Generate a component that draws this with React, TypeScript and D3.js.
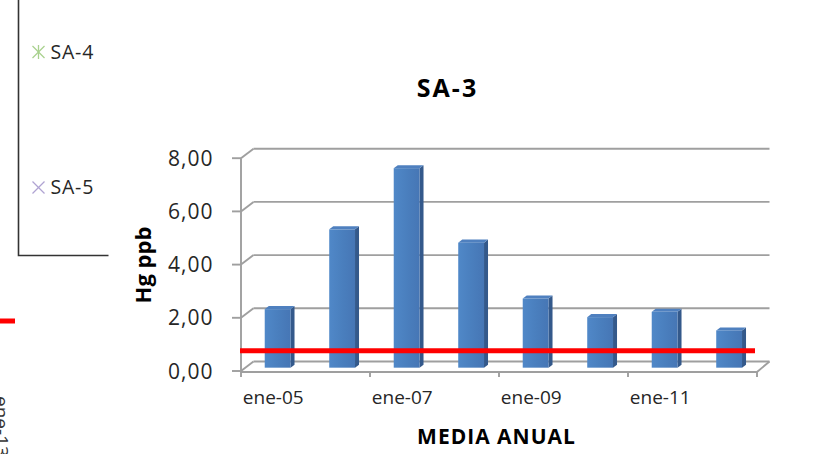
import React from "react";
import * as d3 from "d3";

// Annual mean mercury concentration at station SA-3
const categories = ["ene-05", "ene-06", "ene-07", "ene-08", "ene-09", "ene-10", "ene-11", "ene-12"];
const hgValues = [2.2, 5.2, 7.5, 4.7, 2.6, 1.9, 2.1, 1.4];
const yTicks = [0, 2, 4, 6, 8];
const xTickLabels = ["ene-05", "ene-07", "ene-09", "ene-11"];
const limitValue = 0.76;
const legendItems = ["SA-4", "SA-5"];

const W = 814;
const H = 454;

// 3D projection: depth offset of the back wall relative to the front plane
const DX = 12.5;
const DY = -9.5;
const BAR_T0 = 0.35;
const BAR_T1 = 0.67;

const FONT = "'Open Sans', 'Noto Sans', sans-serif";

const fmt = (v: number) => v.toFixed(2).replace(".", ",");

export default function App() {
  const x = d3.scaleBand<string>().domain(categories).range([241, 757]).paddingInner(0.6).paddingOuter(0.3);
  const edges = d3.scaleLinear().domain([0, categories.length]).range([241, 757]);
  const y = d3.scaleLinear().domain([0, 8]).range([371, 158.2]);

  const grid = "#9f9f9f";
  const x0 = edges(0);
  const x1 = edges(categories.length);
  const floorY = y(0) + 1;

  const bars = categories.map((c, i) => {
    const v = hgValues[i];
    const bx = x(c)!;
    const w = x.bandwidth();
    const yt0 = y(v) + BAR_T0 * DY;
    const yt1 = y(v) + BAR_T1 * DY;
    const yb0 = y(0) + BAR_T0 * DY;
    const yb1 = y(0) + BAR_T1 * DY;
    const fx = bx + BAR_T0 * DX;
    const bxx = bx + BAR_T1 * DX;
    const pts = (p: [number, number][]) => p.map((q) => q.join(",")).join(" ");
    return (
      <g key={c}>
        <polygon points={pts([[fx + w, yt0], [bxx + w, yt1], [bxx + w, yb1], [fx + w, yb0]])} fill="#34598b" />
        <polygon points={pts([[fx, yt0], [fx + w, yt0], [bxx + w, yt1], [bxx, yt1]])} fill="#4f80bf" />
        <rect x={fx} y={yt0} width={w} height={yb0 - yt0} fill="url(#barFront)" />
      </g>
    );
  });

  const lineTextColor = "#262626";

  return (
    <svg width={W} height={H} style={{ position: "absolute", left: 0, top: 0, background: "#fff" }} fontFamily={FONT}>
      <defs>
        <linearGradient id="barFront" x1="0" x2="1" y1="0" y2="0">
          <stop offset="0" stopColor="#5088c8" />
          <stop offset="0.5" stopColor="#4a7fbe" />
          <stop offset="1" stopColor="#4676b5" />
        </linearGradient>
      </defs>

      {/* neighbouring legend frame */}
      <polyline points="18.5,0 18.5,255.5 108.5,255.5" fill="none" stroke="#333" strokeWidth={1.6} />
      {legendItems.map((name, i) => {
        const cy = i === 0 ? 52 : 187.5;
        const cx = 38.5;
        const s = 6;
        return (
          <g key={name}>
            {i === 0 ? (
              <g stroke="#a9d18e" strokeWidth={1.3}>
                <line x1={cx - s} y1={cy - s} x2={cx + s} y2={cy + s} />
                <line x1={cx - s} y1={cy + s} x2={cx + s} y2={cy - s} />
                <line x1={cx} y1={cy - s - 1} x2={cx} y2={cy + s + 1} />
              </g>
            ) : (
              <g stroke="#b0a3d2" strokeWidth={1.3}>
                <line x1={cx - s} y1={cy - s} x2={cx + s} y2={cy + s} />
                <line x1={cx - s} y1={cy + s} x2={cx + s} y2={cy - s} />
              </g>
            )}
            <text x={50.5} y={cy + 6.8} fontSize={19.5} letterSpacing={0.8} fill={lineTextColor}>
              {name}
            </text>
          </g>
        );
      })}
      <line x1={0} x2={15} y1={321} y2={321} stroke="#ff0000" strokeWidth={5} />
      <text transform="translate(-5,396) rotate(90)" fontSize={19} fill="#333">
        ene-13
      </text>

      {/* title */}
      <text x={447.5} y={96.5} textAnchor="middle" fontSize={25} fontWeight={700} letterSpacing={2} fill="#000">
        SA-3
      </text>

      {/* back wall gridlines and side wall */}
      {yTicks.map((t) => (
        <g key={t} stroke={grid} strokeWidth={1.9} fill="none">
          <line x1={x0 + DX} x2={x1 + DX} y1={y(t) + DY} y2={y(t) + DY} />
          <line x1={x0} x2={x0 + DX} y1={y(t)} y2={y(t) + DY} />
          <line x1={x0 - 9} x2={x0} y1={y(t)} y2={y(t)} />
        </g>
      ))}
      <line x1={x0} x2={x0} y1={y(8)} y2={floorY} stroke={grid} strokeWidth={1.9} />
      {/* floor */}
      <polyline points={`${x0},${floorY} ${x1},${floorY} ${x1 + DX},${y(0) + DY}`} fill="none" stroke={grid} strokeWidth={1.9} />
      {d3.range(0, categories.length + 1, 2).map((k) => (
        <line key={k} x1={edges(k)} x2={edges(k)} y1={floorY} y2={floorY + 5} stroke={grid} strokeWidth={1.9} />
      ))}

      {bars}

      {/* reference limit */}
      <line x1={x0 - 1} x2={x1 - 2} y1={y(limitValue)} y2={y(limitValue)} stroke="#ff0000" strokeWidth={5} />

      {/* y tick labels */}
      {yTicks.map((t) => (
        <text key={t} x={213.5} y={y(t)} dy="0.36em" textAnchor="end" fontSize={21} letterSpacing={1} fill={lineTextColor}>
          {fmt(t)}
        </text>
      ))}
      {/* x tick labels */}
      {xTickLabels.map((c) => (
        <text key={c} x={x(c)! + x.bandwidth() / 2} y={403.5} textAnchor="middle" fontSize={19} fill={lineTextColor}>
          {c}
        </text>
      ))}

      <text transform="translate(151,265) rotate(-90)" textAnchor="middle" fontSize={22} fontWeight={700} fill="#000">
        Hg ppb
      </text>
      <text x={496.5} y={443.5} textAnchor="middle" fontSize={21} fontWeight={700} letterSpacing={1} fill="#000">
        MEDIA ANUAL
      </text>
    </svg>
  );
}
